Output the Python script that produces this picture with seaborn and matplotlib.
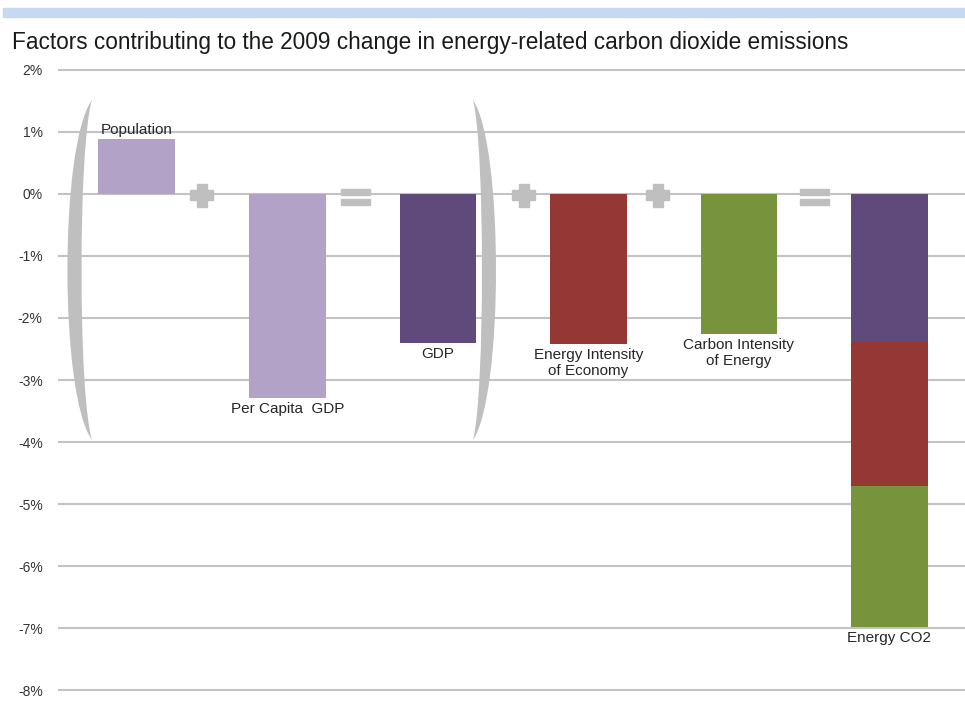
import matplotlib
matplotlib.use("Agg")
import matplotlib.pyplot as plt
from matplotlib.patches import Rectangle, PathPatch
from matplotlib.path import Path
from matplotlib.transforms import ScaledTranslation
import numpy as np
import pandas as pd
import seaborn as sns

# Factor decomposition of the 2009 change in energy-related CO2 (percent)
categories = ["Population", "Per Capita  GDP", "GDP",
              "Energy Intensity\nof Economy", "Carbon Intensity\nof Energy",
              "Energy CO2"]
factor_values = [0.89, -3.29, -2.40, -2.42, -2.26]
# Energy CO2 split into GDP, energy intensity and carbon intensity parts
co2_parts = [-2.39, -2.32, -2.27]
y_ticks = [2, 1, 0, -1, -2, -3, -4, -5, -6, -7, -8]
tick_labels = [f"{t}%" for t in y_ticks]
title = "Factors contributing to the 2009 change in energy-related carbon dioxide emissions"

bar_colors = ["#b3a2c7", "#b3a2c7", "#604a7b", "#953735", "#77933c"]
part_colors = ["#604a7b", "#953735", "#77933c"]
grey = "#bfbfbf"

sns.set_style("white")
plt.rcParams["font.family"] = ["Liberation Sans", "DejaVu Sans"]

W, H = 965, 702
fig = plt.figure(figsize=(W / 100, H / 100), dpi=100)

# axes geometry in pixels: 2% at y=70, -8% at y=690, grid from x=58 to right edge
pad = 0.03
ppu = 62.0
top_px = 70 - pad * ppu
bot_px = 690 + pad * ppu
ax = fig.add_axes([58 / W, (H - bot_px) / H, (W - 58) / W, (bot_px - top_px) / H])

# light blue band across the top
fig.patches.append(Rectangle((3 / W, 1 - 17 / H), 1 - 3 / W, 9 / H,
                             transform=fig.transFigure, color="#c6d9f1", zorder=0))
fig.text(12 / W, 1 - 49 / H, title, fontsize=16.3, color="#1a1a1a", va="baseline")

# single factor bars
df = pd.DataFrame({"factor": categories[:5], "change": factor_values})
sns.barplot(data=df, x="factor", y="change", hue="factor",
            palette=dict(zip(categories[:5], bar_colors)),
            order=categories, width=0.51, saturation=1, errorbar=None,
            legend=False, ax=ax, zorder=3, linewidth=0)

# stacked total: draw cumulative bars from the deepest up
cum = np.cumsum(co2_parts)
for total, color in reversed(list(zip(cum, part_colors))):
    sns.barplot(x=[categories[-1]], y=[total], order=categories, color=color,
                width=0.51, saturation=1, errorbar=None, ax=ax, zorder=3,
                linewidth=0)

ax.set_xlim(-0.524, 5.502)
ax.set_ylim(-8 - pad, 2 + pad)
ax.set_yticks(y_ticks)
ax.set_yticklabels(tick_labels)
ax.set_xticks([])
ax.set_xlabel("")
ax.set_ylabel("")
for s in ax.spines.values():
    s.set_visible(False)
ax.yaxis.grid(True, color="#c3c3c3", linewidth=1.5)
ax.set_axisbelow(True)
ax.tick_params(axis="y", length=0, pad=11, labelsize=10, labelcolor="#333333")

# category labels next to bar ends
label_values = factor_values + [cum[-1]]
for i, (name, v) in enumerate(zip(categories, label_values)):
    if v >= 0:
        ax.annotate(name, (i, v), xytext=(0, 1), textcoords="offset points",
                    ha="center", va="bottom", fontsize=11, color="#262626",
                    linespacing=1.15, zorder=5)
    else:
        ax.annotate(name, (i, v), xytext=(0, -3), textcoords="offset points",
                    ha="center", va="top", fontsize=11, color="#262626",
                    linespacing=1.15, zorder=5)

# parentheses around the GDP decomposition: pointed ends, thick middle
def paren(x_end, x_out_ctl, x_in_ctl, y_top, y_c1, y_c2, y_bot):
    verts = [(x_end, y_top), (x_out_ctl, y_c1), (x_out_ctl, y_c2), (x_end, y_bot),
             (x_in_ctl, y_c2), (x_in_ctl, y_c1), (x_end, y_top),
             (x_end, y_top)]
    codes = [Path.MOVETO, Path.CURVE4, Path.CURVE4, Path.CURVE4,
             Path.CURVE4, Path.CURVE4, Path.CURVE4, Path.CLOSEPOLY]
    ax.add_patch(PathPatch(Path(verts, codes), facecolor=grey, edgecolor="none",
                           zorder=4, clip_on=False))

paren(-0.298, -0.516, -0.391, 1.516, 0.790, -3.242, -3.968)
paren(2.233, 2.437, 2.313, 1.516, 0.790, -3.242, -3.968)

# operator glyphs between bars (sizes in inches)
def sign_trans(x, y):
    return fig.dpi_scale_trans + ScaledTranslation(x, y, ax.transData)

def plus(x, y=-0.02):
    tr = sign_trans(x, y)
    s, t = 0.23, 0.10
    ax.add_patch(Rectangle((-s / 2, -t / 2), s, t, transform=tr, color=grey, zorder=4))
    ax.add_patch(Rectangle((-t / 2, -s / 2), t, s, transform=tr, color=grey, zorder=4))

def equals(x, y=-0.05):
    tr = sign_trans(x, y)
    w, h, g = 0.29, 0.06, 0.04
    ax.add_patch(Rectangle((-w / 2, g / 2), w, h, transform=tr, color=grey, zorder=4))
    ax.add_patch(Rectangle((-w / 2, -g / 2 - h), w, h, transform=tr, color=grey, zorder=4))

plus(0.43)
equals(1.45)
plus(2.57)
plus(3.46)
equals(4.50)

fig.savefig("out.png", dpi=100)
